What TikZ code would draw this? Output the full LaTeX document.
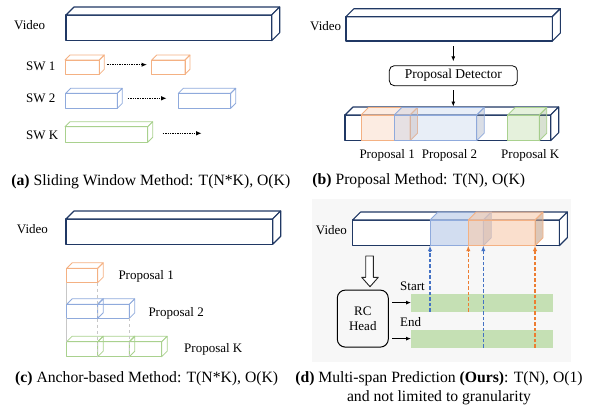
\documentclass[tikz,border=0pt]{standalone}
\usepackage{fontspec}
\setmainfont{Liberation Serif}
\usetikzlibrary{calc, positioning, arrows.meta}
\definecolor{navy}{RGB}{32,56,100}
\definecolor{orgline}{RGB}{244,177,131}
\definecolor{orgfill}{RGB}{248,203,173}
\definecolor{bluline}{RGB}{143,170,220}
\definecolor{blufill}{RGB}{180,199,231}
\definecolor{grnline}{RGB}{169,209,142}
\definecolor{grnbar}{RGB}{197,224,180}
\definecolor{dashblue}{RGB}{68,114,196}
\definecolor{dashorg}{RGB}{237,125,49}
\definecolor{panelbg}{RGB}{247,247,247}
\newcommand\cuboid[7]{% name, front top-left, width, height, depth, face style, side style
  \node[#6, inner sep=0pt, outer sep=0pt, anchor=north west,
        minimum width=#3pt, minimum height=#4pt] (#1) at (#2) {};
  \path[#6] (#1.north west) -- ++(#5,-#5) -- ++(#3,0) -- (#1.north east) -- cycle; % top face
  \path[#7] (#1.north east) -- ++(#5,-#5) -- ++(0,#4) -- (#1.south east) -- cycle; % side face
}
\tikzset{
  lbl/.style={font=\fontsize{13}{15}\selectfont, inner sep=0pt, anchor=base west},
  capt/.style={font=\fontsize{15.7}{19}\selectfont, inner sep=0pt, anchor=base},
  vid/.style={draw=navy, line width=1.1pt, fill=white, line join=round},
  org/.style={draw=orgline, line width=0.8pt, line join=round},
  blu/.style={draw=bluline, line width=0.8pt, line join=round},
  grn/.style={draw=grnline, line width=0.8pt, line join=round},
  % translucent proposals on the bar
  pbo/.style={org, fill=orgfill, fill opacity=0.35},
  pbos/.style={org, fill=orgfill!75!black, fill opacity=0.3},
  pbb/.style={blu, fill=blufill, fill opacity=0.3},
  pbbs/.style={blu, fill=blufill!75!black, fill opacity=0.3},
  pbg/.style={grn, fill=grnline, fill opacity=0.3},
  pbgs/.style={grn, fill=grnline!75!black, fill opacity=0.3},
  spb/.style={blu, fill=blufill, fill opacity=0.6},
  spbs/.style={blu, fill=blufill!80!black, fill opacity=0.6},
  spo/.style={org, fill=orgfill, fill opacity=0.6},
  spos/.style={org, fill=orgfill!80!black, fill opacity=0.6},
  guide/.style={draw=black!22, line width=0.7pt},
  arr/.style={-{Latex[length=5pt,width=4pt]}, line width=0.9pt},
  dotarr/.style={-{Latex[length=5.5pt,width=4.5pt]}, dash pattern=on 1.4pt off 1pt, line width=1.4pt},
  bdash/.style={-{Latex[length=5.5pt,width=4.5pt]}, dash pattern=on 3.5pt off 2pt, line width=1.3pt, dashblue},
  odash/.style={-{Latex[length=5.5pt,width=4.5pt]}, dash pattern=on 3.5pt off 2pt, line width=1.3pt, dashorg},
  bar/.style={fill=grnbar, inner sep=0pt, anchor=north west, minimum width=141.7pt, minimum height=18.2pt},
}
\begin{document}
\begin{tikzpicture}[x=1pt, y=-1pt]
\useasboundingbox (0,0) rectangle (592,407);

% (a) sliding windows
\cuboid{va}{66,15}{205.7}{25.7}{8}{vid}{vid}
\node[lbl] (vla) at (14,29.3) {Video};
\cuboid{swoa}{65,60}{34.3}{14.3}{5}{org}{org}
\cuboid{swob}{151.7,60}{33.3}{14.3}{5}{org}{org}
\cuboid{swta}{65.7,93.3}{51.6}{15}{5}{blu}{blu}
\cuboid{swtb}{178.3,93.3}{52.4}{15}{5}{blu}{blu}
\cuboid{swka}{65,126.7}{82.7}{15.6}{5}{grn}{grn}
\coordinate (swkend) at (201.7,133.3);
\draw[dotarr] ($(swoa.east)+(8,-2.5)$) -- ($(swob.west)+(-4.7,-2.5)$);
\draw[dotarr] ($(swta.east)+(10.4,-2.5)$) -- ($(swtb.west)+(-11.6,-2.5)$);
\draw[dotarr] ($(swka.east)+(15,-1.2)$) -- (swkend);
\node[lbl] (swol) at (26,70) {SW 1};
\node[lbl] (swtl) at (26,102.6) {SW 2};
\node[lbl] (swkl) at (26,139.3) {SW K};
\node[capt] (capa) at (150.8,185.7) {\textbf{(a)} Sliding Window Method: T(N*K), O(K)};

% (b) proposal detector
\cuboid{vb}{346,16.7}{206.3}{24.3}{8}{vid}{vid}
\node[lbl] (vlb) at (310,30.3) {Video};
\node[draw, rounded corners=5pt, line width=0.8pt, inner sep=0pt, minimum width=128pt,
      minimum height=20pt, font=\fontsize{13.5}{15}\selectfont] (pd) at (453.3,75.7) {Proposal Detector};
\cuboid{pb}{345,115}{205.7}{25.7}{8}{vid}{vid}
\cuboid{ppo}{361,115}{49}{25.7}{7.5}{pbo}{pbos}
\cuboid{ppt}{394.3,115}{82.4}{25.7}{7.5}{pbb}{pbbs}
\cuboid{ppk}{507.7,115}{31.6}{25.7}{7.5}{pbg}{pbgs}
\draw[arr, shorten <=5pt, shorten >=4pt] (pd.north |- vb.south) -- (pd.north);
\draw[arr, shorten <=4pt, shorten >=8.5pt] (pd.south) -- (pd.south |- pb.north);
\node[lbl] (ppol) at (359.3,158.6) {Proposal 1};
\node[lbl] (pptl) at (421.7,158.6) {Proposal 2};
\node[lbl] (ppkl) at (501,158.6) {Proposal K};
\node[capt] (capb) at (418.8,184) {\textbf{(b)} Proposal Method: T(N), O(K)};

% (c) anchors
\cuboid{vc}{66,219}{206.7}{25.3}{8}{vid}{vid}
\node[lbl] (vlc) at (16.7,233.3) {Video};
\cuboid{ano}{66.7,268.3}{31}{14.4}{5.5}{org}{org}
\cuboid{anta}{66.7,304.3}{31}{14}{5.5}{blu}{blu}
\cuboid{antb}{97.7,304.3}{31.6}{14}{5.5}{blu}{blu}
\cuboid{anka}{66.7,341.7}{31}{15}{5.5}{grn}{grn}
\cuboid{ankb}{97.7,341.7}{31.6}{15}{5.5}{grn}{grn}
\cuboid{ankc}{129.3,341.7}{32.4}{15}{5.5}{grn}{grn}
\draw[guide] (ano.south west) -- (anta.north west) (anta.south west) -- (anka.north west);
\draw[guide, dashed] (ano.south east) -- (anka.south east) (antb.south east) -- (ankb.south east);
\node[lbl] (anol) at (118.3,279.3) {Proposal 1};
\node[lbl] (antl) at (148.3,316) {Proposal 2};
\node[lbl] (ankl) at (184,352.6) {Proposal K};
\node[capt] (capc) at (146.7,382.3) {\textbf{(c)} Anchor-based Method: T(N*K), O(K)};

% (d) multi-span prediction
\fill[panelbg] (311.7,198.5) rectangle (570.7,361.7);
\cuboid{vd}{352.7,220}{206.6}{25.7}{8}{vid}{vid}
\node[lbl] (vld) at (315.7,234.3) {Video};
\cuboid{spnb}{430,220}{53.3}{25.7}{8}{spb}{spbs}
\cuboid{spno}{468.3,220}{66.7}{25.7}{8}{spo}{spos}
\draw[draw=black!85, fill=white, line width=0.9pt, line join=round] (365.7,256) -- (373.3,256) -- (373.3,277.3)
  -- (378.3,277.3) -- (370,286.7) -- (361.7,277.3) -- (365.7,277.3) -- cycle;
\node[draw, rounded corners=8pt, line width=1pt, inner sep=0pt, minimum width=51pt, minimum height=57pt,
      align=center, font=\fontsize{13}{15.6}\selectfont] (rc) at (362.8,318.6) {RC\\Head};
\node[bar] (st) at (411,293.3) {};
\node[bar] (en) at (411,329.3) {};
\node[lbl] (stl) at (400,290.3) {Start};
\node[lbl] (enl) at (400,326) {End};
\draw[arr, shorten <=3.4pt] (rc.east |- st.west) -- (st.west);
\draw[arr, shorten <=3.4pt] (rc.east |- en.west) -- (en.west);
\draw[bdash] (spnb.south west |- st.south) -- (spnb.south west);
\draw[odash] (spno.south west |- st.south) -- (spno.south west);
\draw[bdash] (spnb.south east |- en.south) -- (spnb.south east);
\draw[odash] (spno.south east |- en.south) -- (spno.south east);
\node[capt] (capd) at (439,382.3) {\textbf{(d)} Multi-span Prediction \textbf{(Ours)}: T(N), O(1)};
\node[capt] (capdb) at (439,401.3) {and not limited to granularity};
\end{tikzpicture}
\end{document}
